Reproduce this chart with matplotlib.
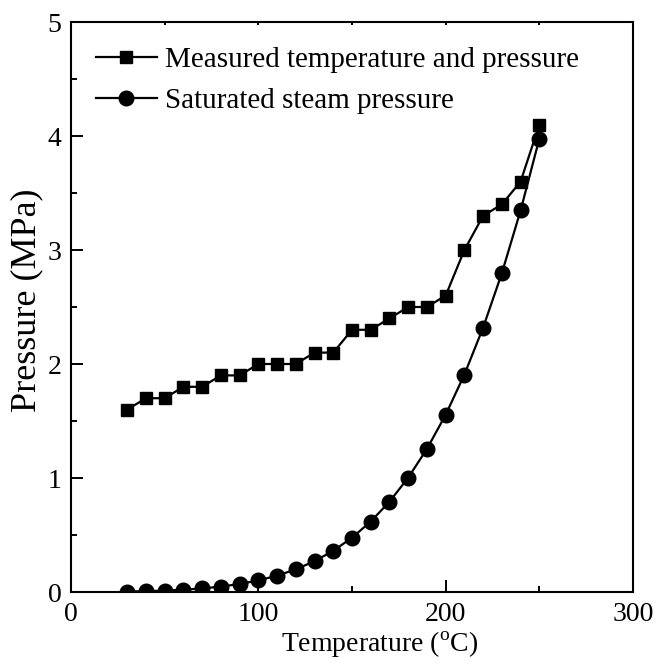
import numpy as np
import matplotlib
matplotlib.use("Agg")
import matplotlib.pyplot as plt
from matplotlib.ticker import MultipleLocator

plt.rcParams['font.family'] = ['Liberation Serif', 'DejaVu Serif']
plt.rcParams['mathtext.fontset'] = 'custom'
plt.rcParams['mathtext.rm'] = 'Liberation Serif'

temps = [30, 40, 50, 60, 70, 80, 90, 100, 110, 120, 130, 140,
         150, 160, 170, 180, 190, 200, 210, 220, 230, 240, 250]
measured = [1.6, 1.7, 1.7, 1.8, 1.8, 1.9, 1.9, 2.0, 2.0, 2.0, 2.1, 2.1,
            2.3, 2.3, 2.4, 2.5, 2.5, 2.6, 3.0, 3.3, 3.4, 3.6, 4.1]
saturated = [0.0042, 0.0074, 0.0123, 0.0199, 0.0312, 0.0474, 0.0701, 0.1014,
             0.1434, 0.1987, 0.2703, 0.3615, 0.4762, 0.6182, 0.7922, 1.0028,
             1.2552, 1.5549, 1.9077, 2.3196, 2.7971, 3.3469, 3.9762]

fig = plt.figure(figsize=(6.57, 6.70), dpi=100)
ax = fig.add_axes([71/657, 1 - 592/670, (633-71)/657, (592-22)/670])

ax.plot(temps, measured, color='black', marker='s', markersize=9, linewidth=1.6,
        label='Measured temperature and pressure')
ax.plot(temps, saturated, color='black', marker='o', markersize=10.5, linewidth=1.6,
        label='Saturated steam pressure')

ax.set_xlim(0, 300)
ax.set_ylim(0, 5)
ax.xaxis.set_major_locator(MultipleLocator(100))
ax.xaxis.set_minor_locator(MultipleLocator(50))
ax.yaxis.set_major_locator(MultipleLocator(1))
ax.yaxis.set_minor_locator(MultipleLocator(0.5))
ax.tick_params(which='major', direction='in', length=8.5, width=1.4, labelsize=20, pad=7)
ax.tick_params(which='minor', direction='in', length=4.5, width=1.4)
ax.tick_params(which='both', top=True)
ax.tick_params(axis='x', which='both', labeltop=False)
for s in ax.spines.values():
    s.set_linewidth(1.5)

ax.set_xlabel(r'Temperature ($^\mathrm{o}$C)', fontsize=20, labelpad=2, x=0.55)
ax.set_ylabel('Pressure (MPa)', fontsize=26, labelpad=3, y=0.512)
# top ticks are barely visible in the original
for t in ax.xaxis.get_major_ticks() + ax.xaxis.get_minor_ticks():
    t.tick2line.set_markersize(2)

ax.legend(loc='upper left', frameon=False, fontsize=21, handlelength=2.1,
          borderaxespad=0.45, handletextpad=0.28, labelspacing=0.5)

fig.savefig('out.png', dpi=100)
